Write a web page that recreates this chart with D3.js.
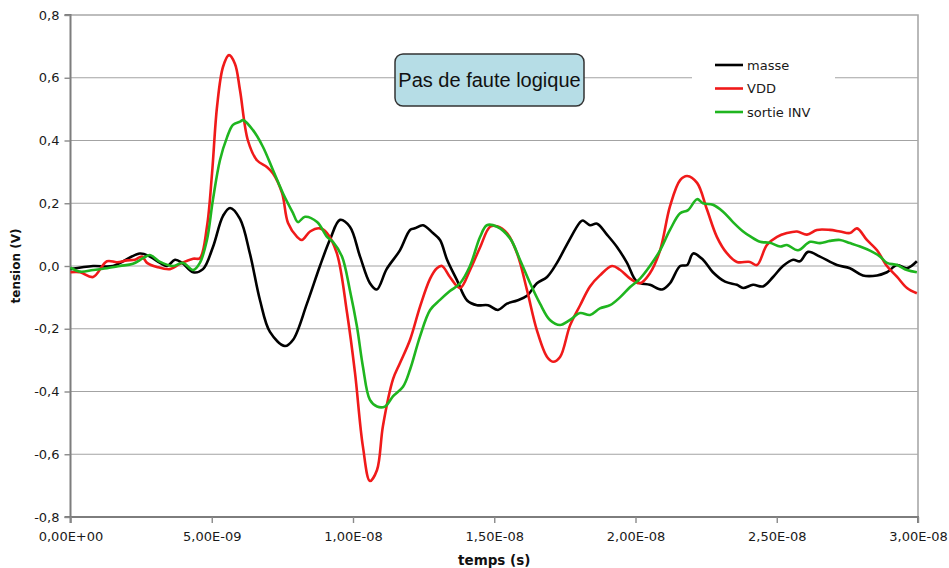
<!DOCTYPE html>
<html>
<head>
<meta charset="utf-8">
<script src="https://cdn.jsdelivr.net/npm/d3@7"></script>
<style>
  html, body { margin: 0; padding: 0; background: #fff; }
  svg { display: block; }
</style>
</head>
<body>
<div id="chart"></div>
<script>
// Pas de faute logique : trois signaux relevés (masse / VDD / sortie INV)
// temps en ns (converti en s pour les étiquettes), tension en V
const masse = [
  [0, -0.01], [0.8, 0.0], [1.5, 0.0], [2.46, 0.04], [2.81, 0.03], [3.17, 0.01], [3.42, 0.0],
  [3.70, 0.02], [3.95, 0.01], [4.34, -0.02], [4.69, -0.01], [5.04, 0.06], [5.40, 0.16],
  [5.65, 0.185], [6.0, 0.15], [6.35, 0.04], [6.71, -0.11], [7.06, -0.21], [7.59, -0.255],
  [7.88, -0.235], [8.37, -0.12], [8.83, 0.0], [9.19, 0.085], [9.54, 0.147], [9.89, 0.125],
  [10.25, 0.03], [10.60, -0.055], [10.84, -0.075], [11.19, -0.01], [11.66, 0.05], [12.02, 0.115],
  [12.19, 0.12], [12.48, 0.13], [12.83, 0.105], [13.08, 0.083], [13.33, 0.02], [13.68, -0.045],
  [14.04, -0.11], [14.39, -0.125], [14.78, -0.125], [15.13, -0.14], [15.45, -0.12], [15.81, -0.11],
  [16.16, -0.095], [16.51, -0.055], [16.87, -0.035], [17.22, 0.01], [17.58, 0.07], [18.04, 0.14],
  [18.14, 0.145], [18.39, 0.13], [18.64, 0.135], [18.99, 0.1], [19.35, 0.06], [19.70, 0.01],
  [20.05, -0.05], [20.51, -0.06], [20.94, -0.075], [21.22, -0.055], [21.58, 0.0], [21.83, 0.003],
  [22.04, 0.04], [22.39, 0.02], [22.74, -0.02], [23.17, -0.05], [23.59, -0.06], [23.81, -0.07],
  [24.16, -0.06], [24.51, -0.065], [24.87, -0.035], [25.22, 0.0], [25.58, 0.02], [25.82, 0.015],
  [26.11, 0.045], [26.53, 0.03], [27.13, 0.003], [27.59, -0.007], [28.05, -0.03], [28.55, -0.03],
  [28.90, -0.02], [29.26, 0.003], [29.61, -0.007], [29.96, 0.015]
];
const vdd = [
  [0, -0.02], [0.34, -0.02], [0.80, -0.035], [1.29, 0.015], [1.65, 0.012], [2.0, 0.018],
  [2.28, 0.02], [2.53, 0.03], [2.71, 0.01], [3.06, -0.003], [3.52, -0.01], [3.88, 0.007],
  [4.34, 0.023], [4.58, 0.025], [4.83, 0.125], [5.01, 0.295], [5.19, 0.51], [5.40, 0.635],
  [5.61, 0.672], [5.82, 0.645], [6.0, 0.56], [6.28, 0.4], [6.60, 0.337], [6.96, 0.315],
  [7.17, 0.295], [7.49, 0.232], [7.70, 0.137], [8.02, 0.093], [8.19, 0.083], [8.48, 0.11],
  [8.83, 0.12], [9.08, 0.105], [9.43, 0.04], [9.79, -0.15], [10.07, -0.34], [10.35, -0.575],
  [10.60, -0.685], [10.85, -0.65], [11.06, -0.51], [11.42, -0.36], [11.66, -0.31], [12.02, -0.235],
  [12.37, -0.13], [12.73, -0.04], [12.97, -0.007], [13.15, 0.0], [13.43, -0.035], [13.79, -0.07],
  [14.14, -0.013], [14.50, 0.06], [14.85, 0.125], [15.10, 0.127], [15.45, 0.105], [15.81, 0.04],
  [16.16, -0.077], [16.51, -0.205], [16.87, -0.29], [17.08, -0.305], [17.33, -0.29], [17.68, -0.19],
  [18.04, -0.125], [18.39, -0.065], [18.74, -0.03], [19.17, 0.0], [19.45, -0.012], [19.81, -0.04],
  [20.16, -0.055], [20.51, -0.023], [20.87, 0.05], [21.22, 0.19], [21.58, 0.274], [21.83, 0.287],
  [22.18, 0.265], [22.53, 0.18], [22.88, 0.093], [23.24, 0.04], [23.59, 0.013], [24.05, 0.013],
  [24.30, 0.003], [24.65, 0.067], [25.01, 0.093], [25.36, 0.105], [25.72, 0.11], [26.07, 0.1],
  [26.42, 0.115], [26.88, 0.115], [27.24, 0.11], [27.59, 0.105], [27.84, 0.12], [28.19, 0.083],
  [28.55, 0.05], [28.90, 0.0], [29.26, -0.035], [29.61, -0.07], [29.96, -0.087]
];
const sortieInv = [
  [0, -0.005], [0.34, -0.018], [0.80, -0.013], [1.29, -0.007], [1.75, 0.0], [2.21, 0.007],
  [2.57, 0.025], [2.81, 0.035], [3.17, 0.013], [3.63, 0.0], [3.98, 0.01], [4.34, -0.013],
  [4.58, 0.01], [4.83, 0.083], [5.04, 0.21], [5.29, 0.337], [5.54, 0.41], [5.75, 0.45],
  [6.0, 0.46], [6.11, 0.465], [6.46, 0.433], [6.81, 0.38], [7.17, 0.305], [7.52, 0.232],
  [7.88, 0.168], [8.05, 0.14], [8.30, 0.157], [8.73, 0.14], [9.08, 0.093], [9.29, 0.077],
  [9.61, 0.03], [9.89, -0.077], [10.14, -0.193], [10.35, -0.32], [10.60, -0.427], [10.85, -0.448],
  [11.13, -0.448], [11.42, -0.415], [11.77, -0.385], [12.02, -0.33], [12.37, -0.225], [12.73, -0.14],
  [13.08, -0.108], [13.43, -0.08], [13.79, -0.055], [14.14, 0.0], [14.50, 0.093], [14.74, 0.13],
  [15.10, 0.125], [15.56, 0.088], [15.91, 0.02], [16.27, -0.055], [16.62, -0.12], [16.97, -0.172],
  [17.33, -0.188], [17.68, -0.172], [18.04, -0.15], [18.39, -0.156], [18.74, -0.135], [19.10, -0.125],
  [19.45, -0.1], [19.81, -0.067], [20.16, -0.04], [20.51, 0.0], [20.87, 0.05], [21.22, 0.115],
  [21.58, 0.168], [21.86, 0.178], [22.18, 0.213], [22.39, 0.2], [22.74, 0.195], [23.10, 0.173],
  [23.45, 0.14], [23.81, 0.11], [24.05, 0.095], [24.41, 0.077], [24.76, 0.074], [25.12, 0.062],
  [25.36, 0.067], [25.75, 0.05], [26.18, 0.077], [26.53, 0.073], [26.88, 0.08], [27.24, 0.083],
  [27.59, 0.073], [27.95, 0.062], [28.30, 0.049], [28.66, 0.03], [28.90, 0.01], [29.26, 0.003],
  [29.61, -0.013], [29.96, -0.02]
];
const seriesNames = ["masse", "VDD", "sortie INV"];
const seriesColors = ["#000000", "#f01a1a", "#1fb51f"];
const xTicks = [0, 5, 10, 15, 20, 25, 30];           // ns
const yTicks = [-0.8, -0.6, -0.4, -0.2, 0, 0.2, 0.4, 0.6, 0.8];
const note = "Pas de faute logique";

const W = 949, H = 568;
const ML = 70.5, MR = 918, MT = 15, MB = 517;
const FONT = "'DejaVu Sans', Verdana, sans-serif";

const svg = d3.select("#chart").append("svg").attr("width", W).attr("height", H);

const x = d3.scaleLinear().domain([0, 30]).range([ML, MR]);
const y = d3.scaleLinear().domain([-0.8, 0.8]).range([MB, MT]);

const fmtX = t => {
  if (t === 0) return "0,00E+00";
  const [m, e] = (t * 1e-9).toExponential(2).split("e");
  const ex = +e;
  return m.replace(".", ",") + "E" + (ex < 0 ? "-" : "+") + String(Math.abs(ex)).padStart(2, "0");
};
const fmtY = v => (Math.abs(v) < 1e-9 ? 0 : v).toFixed(1).replace(".", ",");

// grille horizontale
svg.append("g").selectAll("line").data(yTicks.filter(v => v > -0.8 && v < 0.8)).join("line")
  .attr("x1", ML).attr("x2", MR).attr("y1", d => y(d)).attr("y2", d => y(d))
  .attr("stroke", "#a3a3a3").attr("stroke-width", 1.2);

// cadre : haut / droite clairs
svg.append("path")
  .attr("d", `M${ML},${MT}H${MR}V${MB}`)
  .attr("fill", "none").attr("stroke", "#a8a8a8").attr("stroke-width", 1.6);

// axes
const gy = svg.append("g").attr("transform", `translate(${ML},0)`)
  .call(d3.axisLeft(y).tickValues(yTicks).tickFormat(fmtY).tickSize(6).tickPadding(5));
const gx = svg.append("g").attr("transform", `translate(0,${MB})`)
  .call(d3.axisBottom(x).tickValues(xTicks).tickFormat(fmtX).tickSize(6).tickPadding(9));
[gx, gy].forEach(g => {
  g.select(".domain").attr("stroke", "#7d7d7d").attr("stroke-width", 2);
  g.selectAll(".tick line").attr("stroke", "#8a8a8a").attr("stroke-width", 1.4);
  g.selectAll("text").attr("fill", "#1a1a1a")
    .style("font", `13px ${FONT}`);
});
gy.select(".domain").attr("d", `M-6,${MT}H0V${MB}H-6`);
gx.select(".domain").attr("d", `M${ML},6V0H${MR}V6`);

// courbes
const line = d3.line().x(d => x(d[0])).y(d => y(d[1])).curve(d3.curveCatmullRom.alpha(0.5));
[masse, vdd, sortieInv].forEach((s, i) => {
  svg.append("path").datum(s).attr("d", line)
    .attr("fill", "none").attr("stroke", seriesColors[i])
    .attr("stroke-width", 2.6).attr("stroke-linejoin", "round");
});

// titres d'axes
svg.append("text").attr("x", (ML + MR) / 2).attr("y", 565).attr("text-anchor", "middle")
  .style("font", `bold 13.5px ${FONT}`).attr("fill", "#111").text("temps (s)");
svg.append("text").attr("transform", `translate(20,${(MT + MB) / 2}) rotate(-90)`)
  .attr("text-anchor", "middle")
  .style("font", `bold 12px ${FONT}`).attr("fill", "#111").text("tension (V)");

// étiquette
svg.append("rect").attr("x", 395).attr("y", 54).attr("width", 189).attr("height", 52)
  .attr("rx", 8).attr("fill", "#b6dde6").attr("stroke", "#333").attr("stroke-width", 1.5);
svg.append("text").attr("x", 489.5).attr("y", 87).attr("text-anchor", "middle")
  .style("font", "20px 'Liberation Sans', Arial, sans-serif").attr("fill", "#111").text(note);

// légende
const lg = svg.append("g").attr("transform", "translate(692,50)");
lg.append("rect").attr("width", 143).attr("height", 76).attr("fill", "#fff");
seriesNames.forEach((n, i) => {
  const yy = 15 + i * 23.5;
  lg.append("line").attr("x1", 23).attr("x2", 51).attr("y1", yy).attr("y2", yy)
    .attr("stroke", seriesColors[i]).attr("stroke-width", 2.6);
  lg.append("text").attr("x", 55).attr("y", yy + 4.5)
    .style("font", `13px ${FONT}`).attr("fill", "#1a1a1a").text(n);
});
</script>
</body>
</html>
